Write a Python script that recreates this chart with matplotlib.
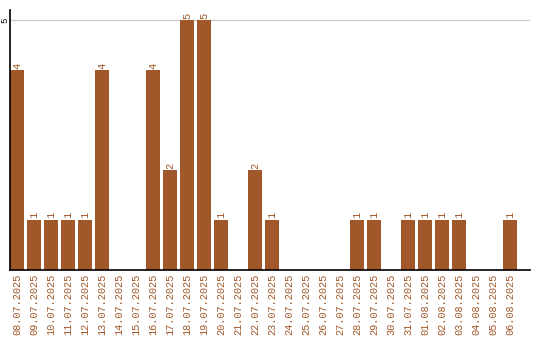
import numpy as np
import matplotlib.pyplot as plt

dates = ['08.07.2025', '09.07.2025', '10.07.2025', '11.07.2025', '12.07.2025',
         '13.07.2025', '14.07.2025', '15.07.2025', '16.07.2025', '17.07.2025',
         '18.07.2025', '19.07.2025', '20.07.2025', '21.07.2025', '22.07.2025',
         '23.07.2025', '24.07.2025', '25.07.2025', '26.07.2025', '27.07.2025',
         '28.07.2025', '29.07.2025', '30.07.2025', '31.07.2025', '01.08.2025',
         '02.08.2025', '03.08.2025', '04.08.2025', '05.08.2025', '06.08.2025']
counts = [4, 1, 1, 1, 1, 4, 0, 0, 4, 2,
          5, 5, 1, 0, 2, 1, 0, 0, 0, 0,
          1, 1, 0, 1, 1, 1, 1, 0, 0, 1]

bar_color = '#a0572a'
mono = 'Liberation Mono'

fig = plt.figure(figsize=(5.4, 3.4), dpi=100)
ax = fig.add_axes([10 / 540, 70 / 340, 520 / 540, 260 / 340])

x = np.arange(len(dates))
bars = ax.bar(x, counts, width=0.82, color=bar_color, zorder=2)

for xi, v in zip(x, counts):
    if v > 0:
        ax.text(xi, v + 0.03, str(v), rotation=90, ha='center', va='bottom',
                color=bar_color, fontsize=7.5, family=mono)

ax.set_xlim(-0.41, 30.15)
ax.set_ylim(0, 5.2)
ax.set_yticks([5])
ax.set_yticklabels(['5'], rotation=90, va='center', family=mono, fontsize=6.5)
ax.yaxis.grid(True, color='#cccccc', linewidth=1, zorder=0)
ax.set_xticks(x)
ax.set_xticklabels(dates, rotation=90, color=bar_color, family=mono, fontsize=7.4)
ax.tick_params(length=0, pad=3)
ax.tick_params(axis='y', pad=0.5)

for s in ['top', 'right']:
    ax.spines[s].set_visible(False)
ax.spines['left'].set_linewidth(1.2)
ax.spines['bottom'].set_linewidth(1.2)

fig.savefig('out.png', dpi=100)
